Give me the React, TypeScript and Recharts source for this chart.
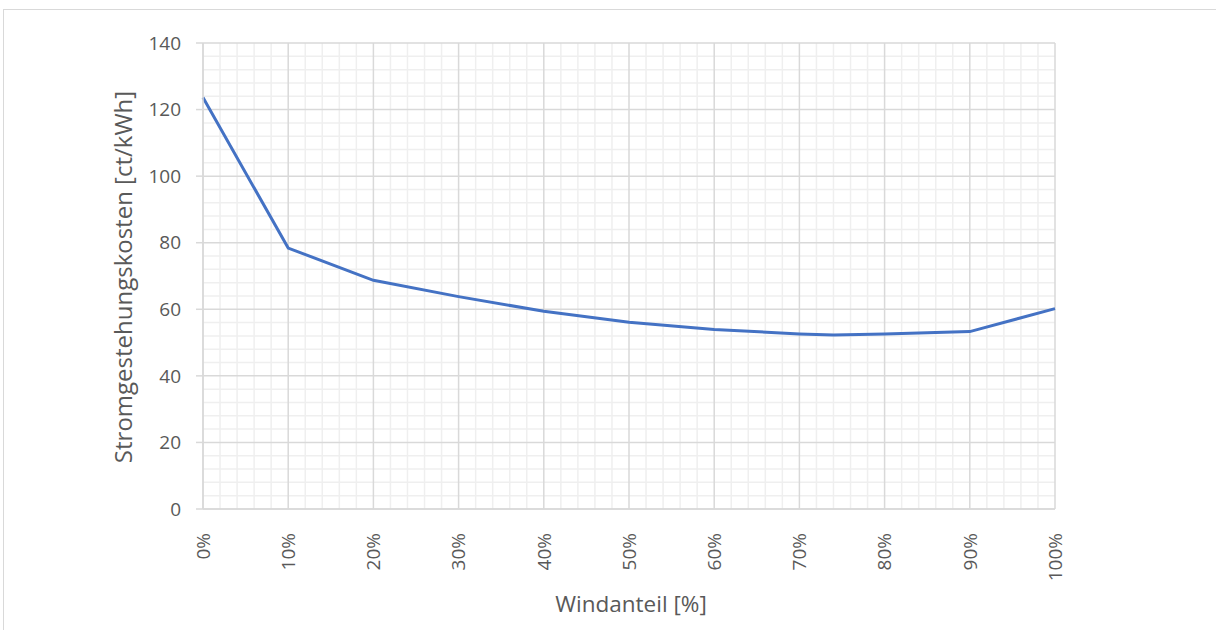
import React from "react";
import { LineChart, Line, XAxis, YAxis, CartesianGrid, Label } from "recharts";

const windShare = [0, 10, 20, 30, 40, 50, 60, 70, 74, 80, 90, 100];
const costs = [123.6, 78.4, 68.7, 63.8, 59.4, 56.1, 53.9, 52.6, 52.3, 52.6, 53.3, 60.2];
const xTicks = [0, 10, 20, 30, 40, 50, 60, 70, 80, 90, 100];
const yTicks = [0, 20, 40, 60, 80, 100, 120, 140];
const xMinor = [2, 4, 6, 8, 12, 14, 16, 18, 22, 24, 26, 28, 32, 34, 36, 38, 42, 44, 46, 48, 52, 54, 56, 58, 62, 64, 66, 68, 72, 74, 76, 78, 82, 84, 86, 88, 92, 94, 96, 98];
const yMinor = [4, 8, 12, 16, 24, 28, 32, 36, 44, 48, 52, 56, 64, 68, 72, 76, 84, 88, 92, 96, 104, 108, 112, 116, 124, 128, 132, 136];

const xLabel = "Windanteil [%]";
const yLabel = "Stromgestehungskosten [ct/kWh]";

const X_DOMAIN = [0, 100];
const Y_DOMAIN = [0, 140];

const data = windShare.map((x, i) => ({ x, cost: costs[i] }));

const FONT = "'Open Sans', 'DejaVu Sans', sans-serif";
const TEXT = "#595959";
const MAJOR = "#d9d9d9";
const MINOR = "#efefef";

const XTick = (props: any) => {
  const { x, y, payload } = props;
  return (
    <g transform={`translate(${x},${y})`}>
      <text
        transform="rotate(-90)"
        x={-16}
        y={0}
        dy="0.36em"
        textAnchor="end"
        fill={TEXT}
        fontSize={19}
        fontFamily={FONT}
      >
        {`${payload.value}%`}
      </text>
    </g>
  );
};

const vGen = ({ offset }: any) =>
  xMinor.map((v) => offset.left + (offset.width * (v - X_DOMAIN[0])) / (X_DOMAIN[1] - X_DOMAIN[0]));
const hGen = ({ offset }: any) =>
  yMinor.map((v) => offset.top + offset.height * (1 - (v - Y_DOMAIN[0]) / (Y_DOMAIN[1] - Y_DOMAIN[0])));

export default function App() {
  return (
    <div style={{ position: "absolute", left: 0, top: 0, width: 1216, height: 630, overflow: "hidden", background: "#fff" }}>
      <div
        style={{
          position: "absolute",
          left: 3,
          top: 9,
          width: 1400,
          height: 800,
          borderTop: "1.5px solid #d9d9d9",
          borderLeft: "1.5px solid #d9d9d9",
        }}
      />
      <div style={{ position: "absolute", left: 0, top: 0 }}>
        <LineChart width={1216} height={630} data={data} margin={{ top: 43, right: 161, left: 0, bottom: 0 }}>
          <CartesianGrid
            stroke={MINOR}
            strokeWidth={1.5}
            verticalCoordinatesGenerator={vGen}
            horizontalCoordinatesGenerator={hGen}
          />
          <CartesianGrid stroke={MAJOR} strokeWidth={1.5} />
          <XAxis
            dataKey="x"
            type="number"
            domain={X_DOMAIN}
            ticks={xTicks}
            interval={0}
            height={121}
            tickLine={false}
            axisLine={{ stroke: MAJOR, strokeWidth: 1.5 }}
            tick={<XTick />}
          >
            <Label
              content={({ viewBox }: any) => (
                <text
                  x={viewBox.x + viewBox.width / 2 + 2}
                  y={603}
                  textAnchor="middle"
                  dominantBaseline="central"
                  fill={TEXT}
                  fontSize={22.5}
                  fontFamily={FONT}
                >
                  {xLabel}
                </text>
              )}
            />
          </XAxis>
          <YAxis
            type="number"
            domain={Y_DOMAIN}
            ticks={yTicks}
            interval={0}
            width={203}
            tickSize={7}
            tickMargin={15}
            tickLine={{ stroke: MAJOR, strokeWidth: 1.5 }}
            axisLine={{ stroke: MAJOR, strokeWidth: 1.5 }}
            tick={{ fill: TEXT, fontSize: 19, fontFamily: FONT }}
          >
            <Label
              content={({ viewBox }: any) => {
                const cx = viewBox.x + 122;
                const cy = viewBox.y + viewBox.height / 2 + 1;
                return (
                  <text
                    x={cx}
                    y={cy}
                    transform={`rotate(-90, ${cx}, ${cy})`}
                    textAnchor="middle"
                    dominantBaseline="central"
                    fill={TEXT}
                    fontSize={24}
                    fontFamily={FONT}
                  >
                    {yLabel}
                  </text>
                );
              }}
            />
          </YAxis>
          <Line
            type="linear"
            dataKey="cost"
            stroke="#4472C4"
            strokeWidth={3}
            dot={false}
            isAnimationActive={false}
          />
        </LineChart>
      </div>
    </div>
  );
}
